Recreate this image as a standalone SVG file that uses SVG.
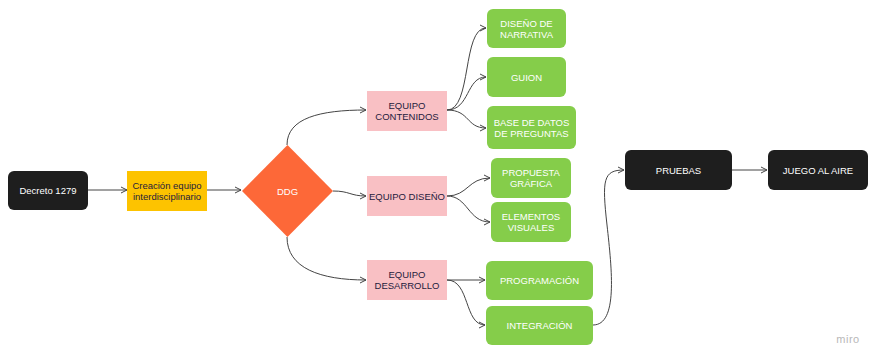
<svg xmlns="http://www.w3.org/2000/svg" width="871" height="346" viewBox="0 0 871 346">
<style>
text{font-family:"Liberation Sans",Arial,sans-serif;font-size:9.5px;text-anchor:middle;dominant-baseline:central}
.dark{fill:#1e1e1e}
.dark+text,.wt{fill:#ffffff}
.green{fill:#85cd4a}
.pink{fill:#f9c0c4}
.pt{fill:#1f1b3d}
.c{fill:none;stroke:#444;stroke-width:1}
</style>
<defs>
<marker id="ah" viewBox="0 0 8 8" refX="7" refY="4" markerWidth="8" markerHeight="8" markerUnits="userSpaceOnUse" orient="auto">
<path d="M1,1 L7,4 L1,7" fill="none" stroke="#444" stroke-width="1"/>
</marker>
</defs>
<rect width="871" height="346" fill="#ffffff"/>
<g id="connectors">
<path class="c" marker-end="url(#ah)" d="M88,190 L127,190"/>
<path class="c" marker-end="url(#ah)" d="M207,190 L241,190"/>
<path class="c" marker-end="url(#ah)" d="M287,145 C287,118 320,110 366,110"/>
<path class="c" marker-end="url(#ah)" d="M333,191 C350,191 350,196 366,196"/>
<path class="c" marker-end="url(#ah)" d="M287,237 C287,268 320,280 366,280"/>
<path class="c" marker-end="url(#ah)" d="M447,110 C472,110 462,28 486,28"/>
<path class="c" marker-end="url(#ah)" d="M447,110 C470,110 466,77 486,77"/>
<path class="c" marker-end="url(#ah)" d="M447,110 C470,110 466,128 486,128"/>
<path class="c" marker-end="url(#ah)" d="M447,196 C468,196 468,178 490,178"/>
<path class="c" marker-end="url(#ah)" d="M447,196 C468,196 468,222 490,222"/>
<path class="c" marker-end="url(#ah)" d="M447,280 L485,280"/>
<path class="c" marker-end="url(#ah)" d="M447,280 C470,280 464,325 485,325"/>
<path class="c" marker-end="url(#ah)" d="M593,325 C618,325 612,270 607,225 C602,180 603,170 624,170"/>
<path class="c" marker-end="url(#ah)" d="M732,170 L767,170"/>
</g>
<g id="decreto"><rect class="dark" x="8" y="171" width="80" height="39" rx="6"/><text class="wt" x="48" y="190.5">Decreto 1279</text></g>
<g id="creacion"><rect fill="#fdc300" x="127" y="171" width="80" height="40"/><text x="167" y="185" fill="#1f1b3d">Creación equipo</text><text x="167" y="196" fill="#1f1b3d">interdisciplinario</text></g>
<g id="ddg"><path fill="#fd6838" d="M287.5,145 L333,191 L287.5,237 L242,191 Z"/><text class="wt" x="287.5" y="191">DDG</text></g>
<g id="eq-contenidos"><rect class="pink" x="367" y="91" width="80" height="40"/><text class="pt" x="407" y="105">EQUIPO</text><text class="pt" x="407" y="116">CONTENIDOS</text></g>
<g id="eq-diseno"><rect class="pink" x="367" y="176" width="80" height="40"/><text class="pt" x="407" y="196">EQUIPO DISEÑO</text></g>
<g id="eq-desarrollo"><rect class="pink" x="367" y="260" width="80" height="40"/><text class="pt" x="407" y="274">EQUIPO</text><text class="pt" x="407" y="285">DESARROLLO</text></g>
<g id="narrativa"><rect class="green" x="487" y="9" width="79" height="39" rx="6"/><text class="wt" x="526.5" y="23">DISEÑO DE</text><text class="wt" x="526.5" y="34">NARRATIVA</text></g>
<g id="guion"><rect class="green" x="487" y="57" width="79" height="40" rx="6"/><text class="wt" x="526.5" y="77">GUION</text></g>
<g id="base"><rect class="green" x="487" y="106" width="89" height="43" rx="6"/><text class="wt" x="531.5" y="122">BASE DE DATOS</text><text class="wt" x="531.5" y="133">DE PREGUNTAS</text></g>
<g id="propuesta"><rect class="green" x="491" y="158" width="80" height="40" rx="6"/><text class="wt" x="531" y="172.5">PROPUESTA</text><text class="wt" x="531" y="183.5">GRÁFICA</text></g>
<g id="elementos"><rect class="green" x="491" y="202" width="80" height="40" rx="6"/><text class="wt" x="531" y="216.5">ELEMENTOS</text><text class="wt" x="531" y="227.5">VISUALES</text></g>
<g id="programacion"><rect class="green" x="486" y="261" width="107" height="39" rx="6"/><text class="wt" x="539.5" y="280.5">PROGRAMACIÓN</text></g>
<g id="integracion"><rect class="green" x="486" y="306" width="107" height="39" rx="6"/><text class="wt" x="539.5" y="325.5">INTEGRACIÓN</text></g>
<g id="pruebas"><rect class="dark" x="625" y="150" width="107" height="40" rx="6"/><text class="wt" x="678.5" y="170">PRUEBAS</text></g>
<g id="juego"><rect class="dark" x="768" y="150" width="100" height="40" rx="6"/><text class="wt" x="818" y="170">JUEGO AL AIRE</text></g>
<text x="848" y="339" fill="#b8b8b8" style="font-size:11px;letter-spacing:0.5px">miro</text>
</svg>
